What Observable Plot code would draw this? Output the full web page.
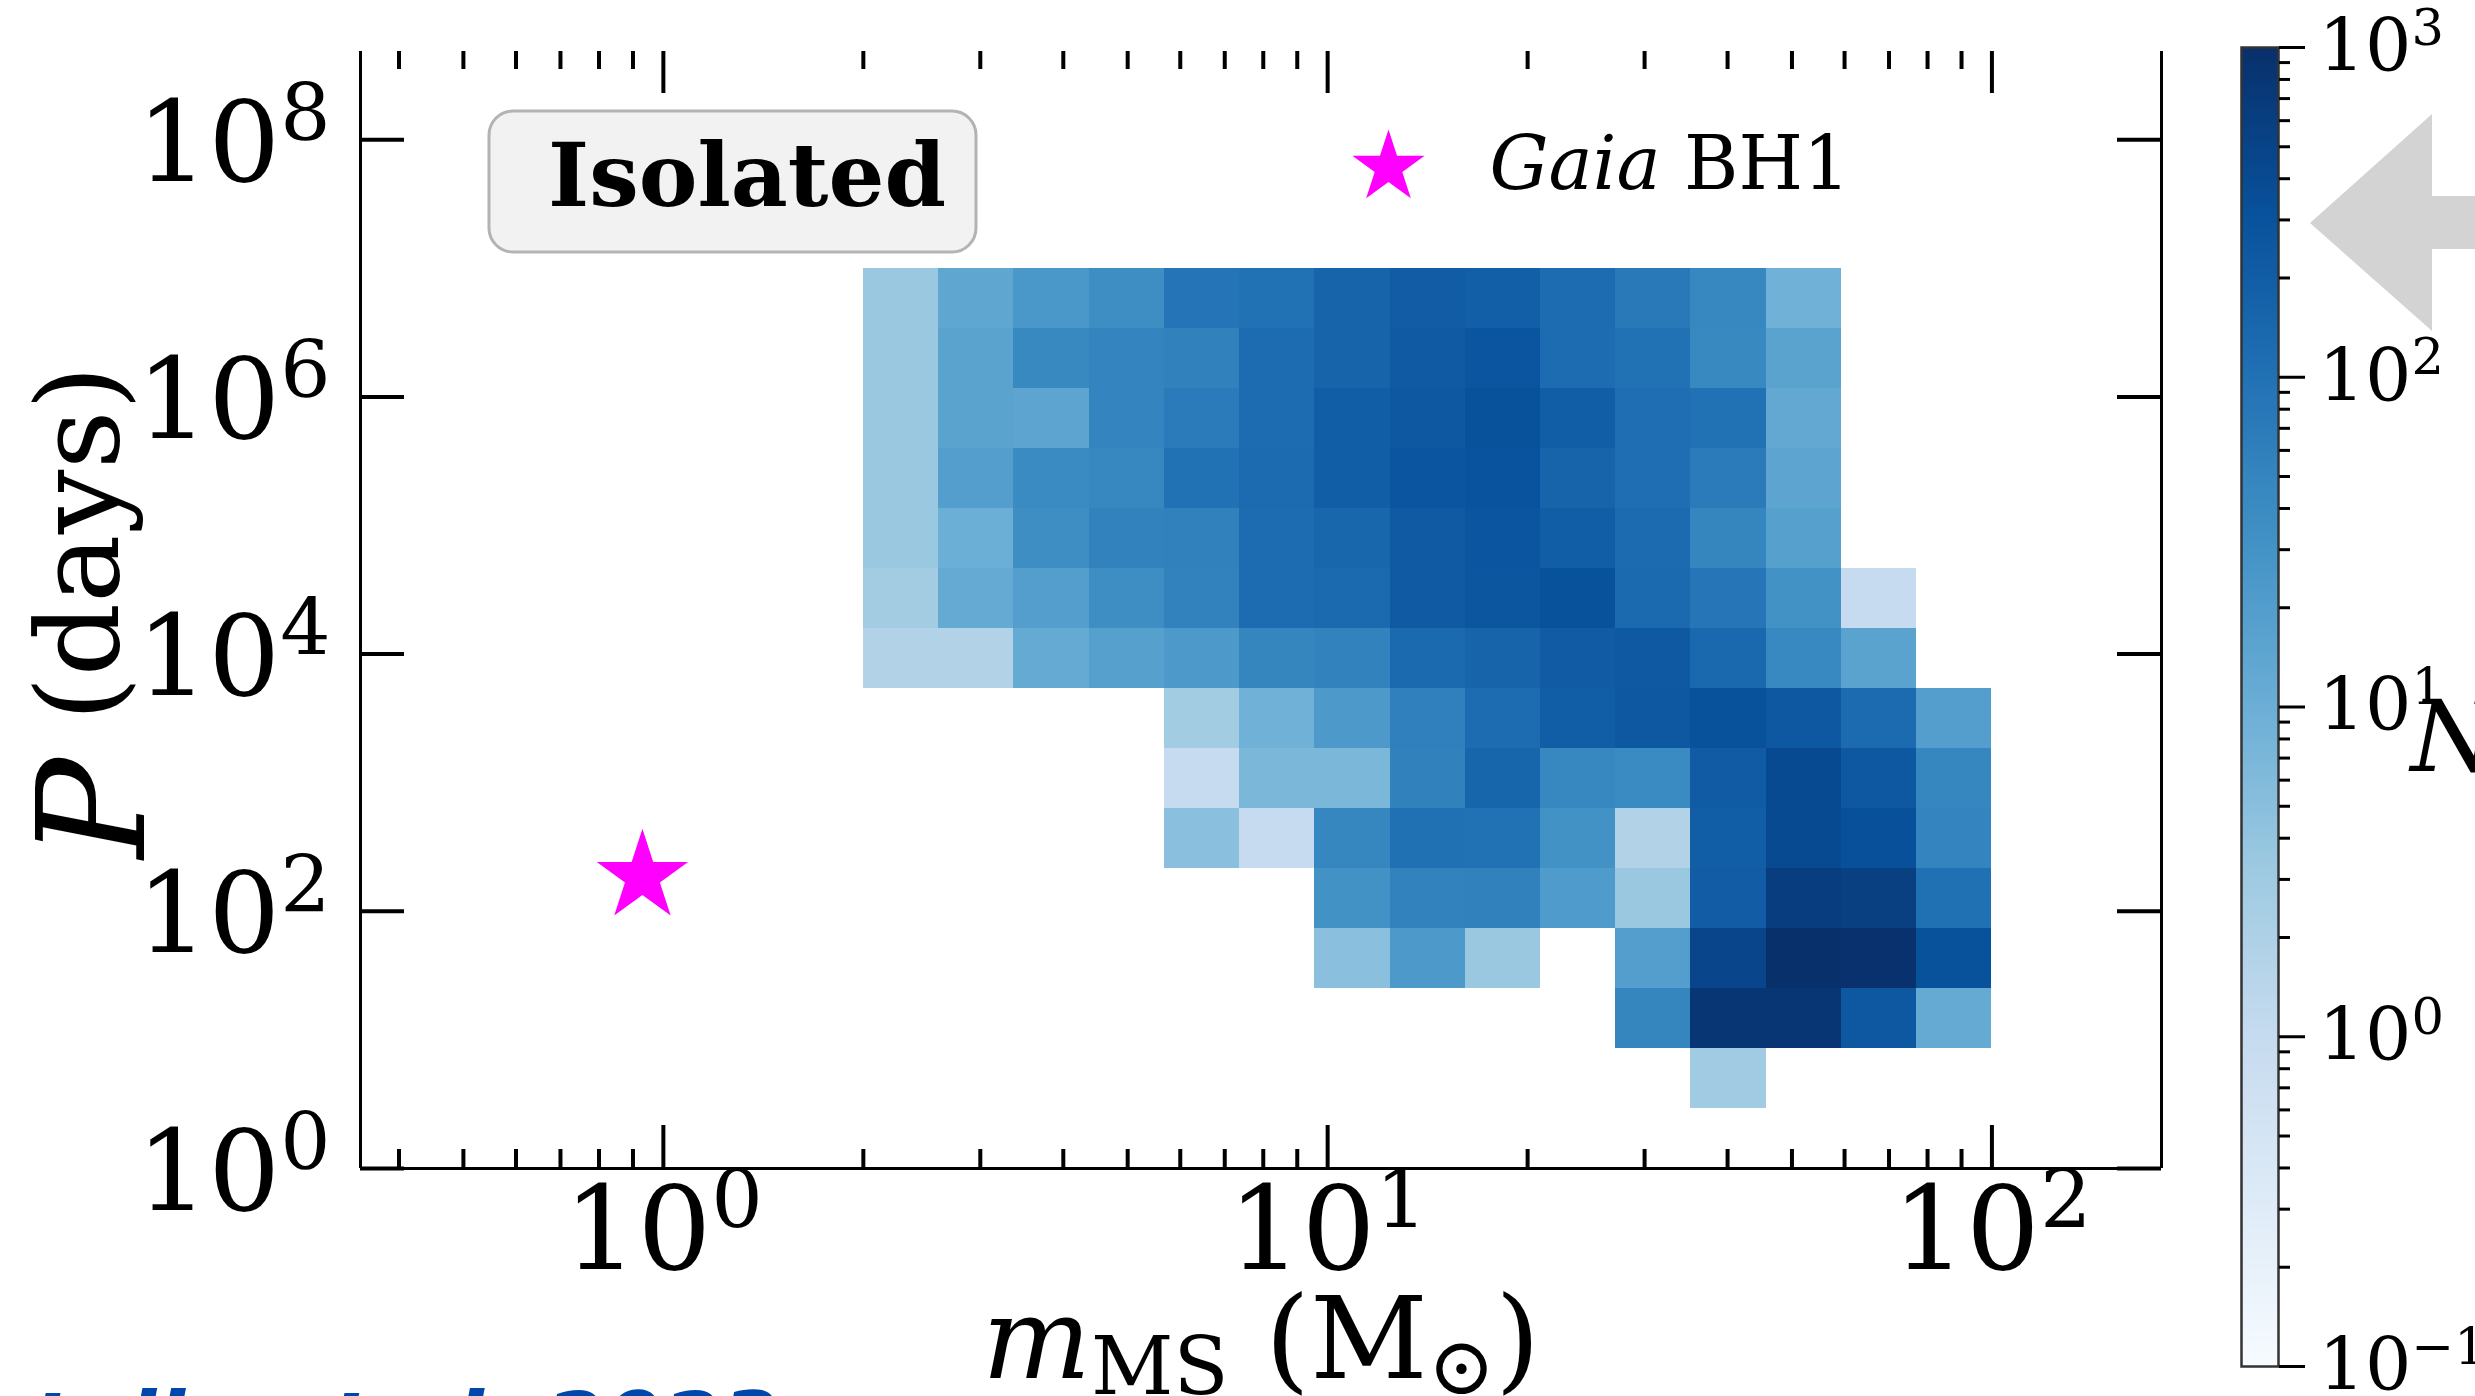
<!DOCTYPE html>
<html><head><meta charset="utf-8">
<script src="https://cdn.jsdelivr.net/npm/d3@7"></script>
<script src="https://cdn.jsdelivr.net/npm/@observablehq/plot@0.6"></script>
<style>
html, body { margin:0; padding:0; background:#fff; overflow:hidden; }
#wrap { position: relative; width: 2475px; height: 1396px; }
#cbar { position: absolute; left: 2239px; top: 0; }
</style></head><body><div id="wrap"></div>
<script>
// ---------------- data ----------------
const massRange = [2, 100];        // heat-map extent in m_MS (Msun)
const periodRange = [1, 1e7];      // heat-map extent in P (days)
const nMassBins = 15, nPeriodBins = 15;
// counts N per cell, rows from the top (P ~ 10^6.5-10^7 d) down to the bottom (P ~ 1-3 d);
// columns from m_MS = 2 to 100 Msun (0 = empty cell)
const countsTopToBottom = [
  [3.5, 14, 25, 36, 90, 100, 160, 210, 190, 120, 75, 47, 9, 0, 0],
  [3.5, 16, 44, 52, 57, 120, 160, 230, 280, 120, 100, 43, 16, 0, 0],
  [3.5, 16, 15, 52, 70, 120, 200, 250, 320, 200, 110, 100, 13, 0, 0],
  [3.5, 19, 40, 46, 100, 125, 200, 280, 300, 160, 110, 70, 15, 0, 0],
  [3.5, 10, 36, 55, 58, 120, 150, 230, 280, 200, 125, 50, 18, 0, 0],
  [2.7, 12, 19, 36, 55, 120, 130, 230, 260, 310, 130, 85, 32, 1, 0],
  [1.8, 1.8, 12, 18, 24, 50, 55, 130, 160, 220, 240, 135, 45, 16, 0],
  [0, 0, 0, 0, 2.8, 9, 24, 60, 120, 200, 250, 310, 250, 125, 19],
  [0, 0, 0, 0, 1, 7, 7, 58, 155, 47, 40, 220, 400, 250, 48],
  [0, 0, 0, 0, 5, 1, 48, 105, 100, 31, 1.8, 200, 410, 330, 52],
  [0, 0, 0, 0, 0, 0, 31, 55, 58, 22, 3.5, 210, 630, 580, 105],
  [0, 0, 0, 0, 0, 0, 5, 23, 3.5, 0, 19, 480, 1000, 950, 320],
  [0, 0, 0, 0, 0, 0, 0, 0, 0, 0, 50, 800, 800, 250, 12],
  [0, 0, 0, 0, 0, 0, 0, 0, 0, 0, 0, 3, 0, 0, 0],
  [0, 0, 0, 0, 0, 0, 0, 0, 0, 0, 0, 0, 0, 0, 0]
];
const gaiaBH1 = [{name: "Gaia BH1", mass: 0.93, period: 185.6}];
const xDomain = [0.35, 180];
const yDomain = [1, 4.85e8];
const xMajorTicks = [1, 10, 100];
const xMinorTicks = [0.4, 0.5, 0.6, 0.7, 0.8, 0.9, 2, 3, 4, 5, 6, 7, 8, 9, 20, 30, 40, 50, 60, 70, 80, 90];
const yMajorTicks = [1, 1e2, 1e4, 1e6, 1e8];
const cbarDomain = [0.1, 1000];
const cbarMajorExp = [-1, 0, 1, 2, 3];
const cbarMinorMult = [2, 3, 4, 5, 6, 7, 8, 9];
const panelLabel = "Isolated";
const legendLabel = "Gaia BH1";
const xLabel = "m_MS (M_⊙)";
const yLabel = "P (days)";
const cbarLabel = "N";
const credit = "Rastello et al. 2023";
const blues9 = ["#f7fbff","#deebf7","#c6dbef","#9ecae1","#6baed6","#4292c6","#2171b5","#08519c","#08306b"];

// ---------------- derived ----------------
const lx0 = Math.log10(massRange[0]), lx1 = Math.log10(massRange[1]);
const ly0 = Math.log10(periodRange[0]), ly1 = Math.log10(periodRange[1]);
const xEdges = d3.range(nMassBins + 1).map(i => 10 ** (lx0 + i * (lx1 - lx0) / nMassBins));
const yEdges = d3.range(nPeriodBins + 1).map(i => 10 ** (ly0 + i * (ly1 - ly0) / nPeriodBins));
const cells = [];
countsTopToBottom.forEach((row, r) => {
  const yi = nPeriodBins - 1 - r;
  row.forEach((n, c) => { if (n > 0) cells.push({m1: xEdges[c], m2: xEdges[c + 1], p1: yEdges[yi], p2: yEdges[yi + 1], n}); });
});
const cbarMinor = [];
cbarMajorExp.slice(0, -1).forEach(e => cbarMinorMult.forEach(k => cbarMinor.push(e + Math.log10(k))));

const colorScale = {type: "log", domain: cbarDomain, clamp: true, interpolate: d3.piecewise(d3.interpolateRgb, blues9)};
const pow10 = e => "10^" + String(e).replace("-", "−");

// ---------------- layout ----------------
const W = 2475, H = 1396;
const mL = 360, mR = 314, mT = 51, mB = 228;
const fw = W - mL - mR, fh = H - mT - mB;
const TICK = 4;

const plot = Plot.plot({
  width: W, height: H,
  marginLeft: mL, marginRight: mR, marginTop: mT, marginBottom: mB,
  style: {fontFamily: "DejaVu Serif", background: "white", color: "black"},
  x: {type: "log", domain: xDomain},
  y: {type: "log", domain: yDomain},
  color: colorScale,
  marks: [
    Plot.rect(cells, {x1: "m1", x2: "m2", y1: "p1", y2: "p2", fill: "n", shapeRendering: "crispEdges"}),
    // spines (top spine hidden)
    Plot.ruleX(xDomain, {strokeWidth: 3}),
    Plot.ruleY([yDomain[0]], {strokeWidth: 3}),
    // inward ticks
    Plot.tickX(xMajorTicks, {x: d => d, insetTop: fh - 43, strokeWidth: TICK}),
    Plot.tickX(xMinorTicks, {x: d => d, insetTop: fh - 19, strokeWidth: TICK}),
    Plot.tickX(xMajorTicks, {x: d => d, insetBottom: fh - 42, strokeWidth: TICK}),
    Plot.tickX(xMinorTicks, {x: d => d, insetBottom: fh - 18, strokeWidth: TICK}),
    Plot.tickY(yMajorTicks, {y: d => d, insetRight: fw - 44, strokeWidth: TICK}),
    Plot.tickY(yMajorTicks, {y: d => d, insetLeft: fw - 44, strokeWidth: TICK}),
    // tick labels
    Plot.axisX({ticks: xMajorTicks, tickSize: 0, tickPadding: 18, fontSize: 116, label: null,
      tickFormat: d => pow10(Math.round(Math.log10(d)))}),
    Plot.axisY({ticks: yMajorTicks, tickSize: 0, tickPadding: 30, fontSize: 113, label: null, dy: 5,
      tickFormat: d => pow10(Math.round(Math.log10(d)))}),
    // axis titles
    Plot.text([xLabel], {frameAnchor: "bottom", dy: 209, lineAnchor: "bottom", fontSize: 115}),
    Plot.text([yLabel], {frameAnchor: "left", dx: 117 - mL, dy: 2, rotate: -90, textAnchor: "middle", lineAnchor: "bottom", fontSize: 115}),
    // Gaia BH1
    Plot.dot(gaiaBH1, {x: "mass", y: "period", symbol: "star", r: 28.7, fill: "#ff00ff"}),
    // legend
    Plot.dot([legendLabel], {frameAnchor: "top-left", dx: 1388 - mL, dy: 167 - mT, symbol: "star", r: 22.7, fill: "#ff00ff"}),
    Plot.text([legendLabel], {frameAnchor: "top-left", dx: 1489 - mL, dy: 188 - mT, textAnchor: "start", lineAnchor: "bottom", fontSize: 74})
  ]
});

const wrap = document.getElementById("wrap");
wrap.appendChild(plot);

// colorbar
const cbW = 236, cbL = 2, cbBar = 37;
const cbar = Plot.plot({
  width: cbW, height: H,
  marginLeft: cbL, marginRight: cbW - cbL - cbBar, marginTop: 47, marginBottom: 30,
  style: {fontFamily: "DejaVu Serif", background: "transparent", color: "black", overflow: "visible"},
  x: {domain: [0, 1], axis: null},
  y: {domain: [cbarMajorExp[0], cbarMajorExp[cbarMajorExp.length - 1]]},
  color: colorScale,
  marks: [
    Plot.raster({fill: (x, y) => 10 ** y, x1: 0, x2: 1, y1: cbarMajorExp[0], y2: cbarMajorExp[cbarMajorExp.length - 1]}),
    Plot.frame({stroke: "#333", strokeWidth: 2.5}),
    Plot.axisY({anchor: "right", ticks: cbarMinor, tickSize: 11, strokeWidth: 3, label: null, tickFormat: () => ""}),
    Plot.axisY({anchor: "right", ticks: cbarMajorExp, tickSize: 26, tickPadding: 14, strokeWidth: 3, fontSize: 73, label: null, tickFormat: pow10}),
    Plot.text([cbarLabel], {frameAnchor: "right", dx: 2410 - (2239 + cbL + cbBar), dy: 770 - (47 + (H - 77) / 2), textAnchor: "start", lineAnchor: "bottom", fontStyle: "italic", fontSize: 100})
  ]
});
cbar.id = "cbar";
wrap.appendChild(cbar);

// ---------------- rich text (super/subscripts, italics) ----------------
const NS = "http://www.w3.org/2000/svg";
function setRich(el, parts) {
  el.textContent = "";
  for (const p of parts) {
    const ts = document.createElementNS(NS, "tspan");
    ts.textContent = p.t;
    if (p.italic) ts.setAttribute("font-style", "italic");
    if (p.size) ts.setAttribute("font-size", p.size + "px");
    if (p.dy) ts.setAttribute("dy", p.dy);
    el.appendChild(ts);
  }
}
function enrich(svgEl) {
  svgEl.querySelectorAll("text").forEach(el => {
    const s = el.textContent;
    const fs = parseFloat(getComputedStyle(el).fontSize);
    let m;
    if ((m = /^10\^(.+)$/.exec(s))) {
      setRich(el, [{t: "10"}, {t: m[1], size: 0.7 * fs, dy: -0.36 * fs}]);
    } else if (s === yLabel) {
      setRich(el, [{t: "P", italic: true, size: 1.3 * fs, dy: 26}, {t: " (days)", dy: -26}]);
    } else if (s === xLabel) {
      const sh = 0.14 * fs;
      setRich(el, [{t: "m", italic: true}, {t: "MS", size: 0.7 * fs, dy: sh}, {t: " (M", dy: -sh},
                   {t: "⊙", size: 0.7 * fs, dy: sh}, {t: ")", dy: -sh}]);
    } else if (s === legendLabel) {
      setRich(el, [{t: "Gaia", italic: true}, {t: " BH1"}]);
    }
  });
}
enrich(plot);
enrich(cbar);

// ---------------- annotations ----------------
const svg = d3.select(plot);
const box = svg.append("g");
box.append("rect").attr("x", 489).attr("y", 111).attr("width", 487).attr("height", 141).attr("rx", 24)
  .attr("fill", "#f2f2f2").attr("stroke", "#b3b3b3").attr("stroke-width", 3);
box.append("text").attr("x", 747).attr("y", 206).attr("text-anchor", "middle")
  .attr("font-family", "DejaVu Serif").attr("font-weight", "bold").attr("font-size", 88).text(panelLabel);
svg.append("polygon")
  .attr("points", [[2310, 223], [2432, 114], [2432, 196], [2480, 196], [2480, 249], [2432, 249], [2432, 331]].map(p => p.join(",")).join(" "))
  .attr("fill", "#d3d3d3");
svg.append("text").attr("x", -141).attr("y", 1452).attr("text-anchor", "start").attr("font-family", "DejaVu Sans").attr("font-weight", "bold")
  .attr("font-style", "italic").attr("font-size", 84).attr("fill", "#0047ab").text(credit);
</script></body></html>
